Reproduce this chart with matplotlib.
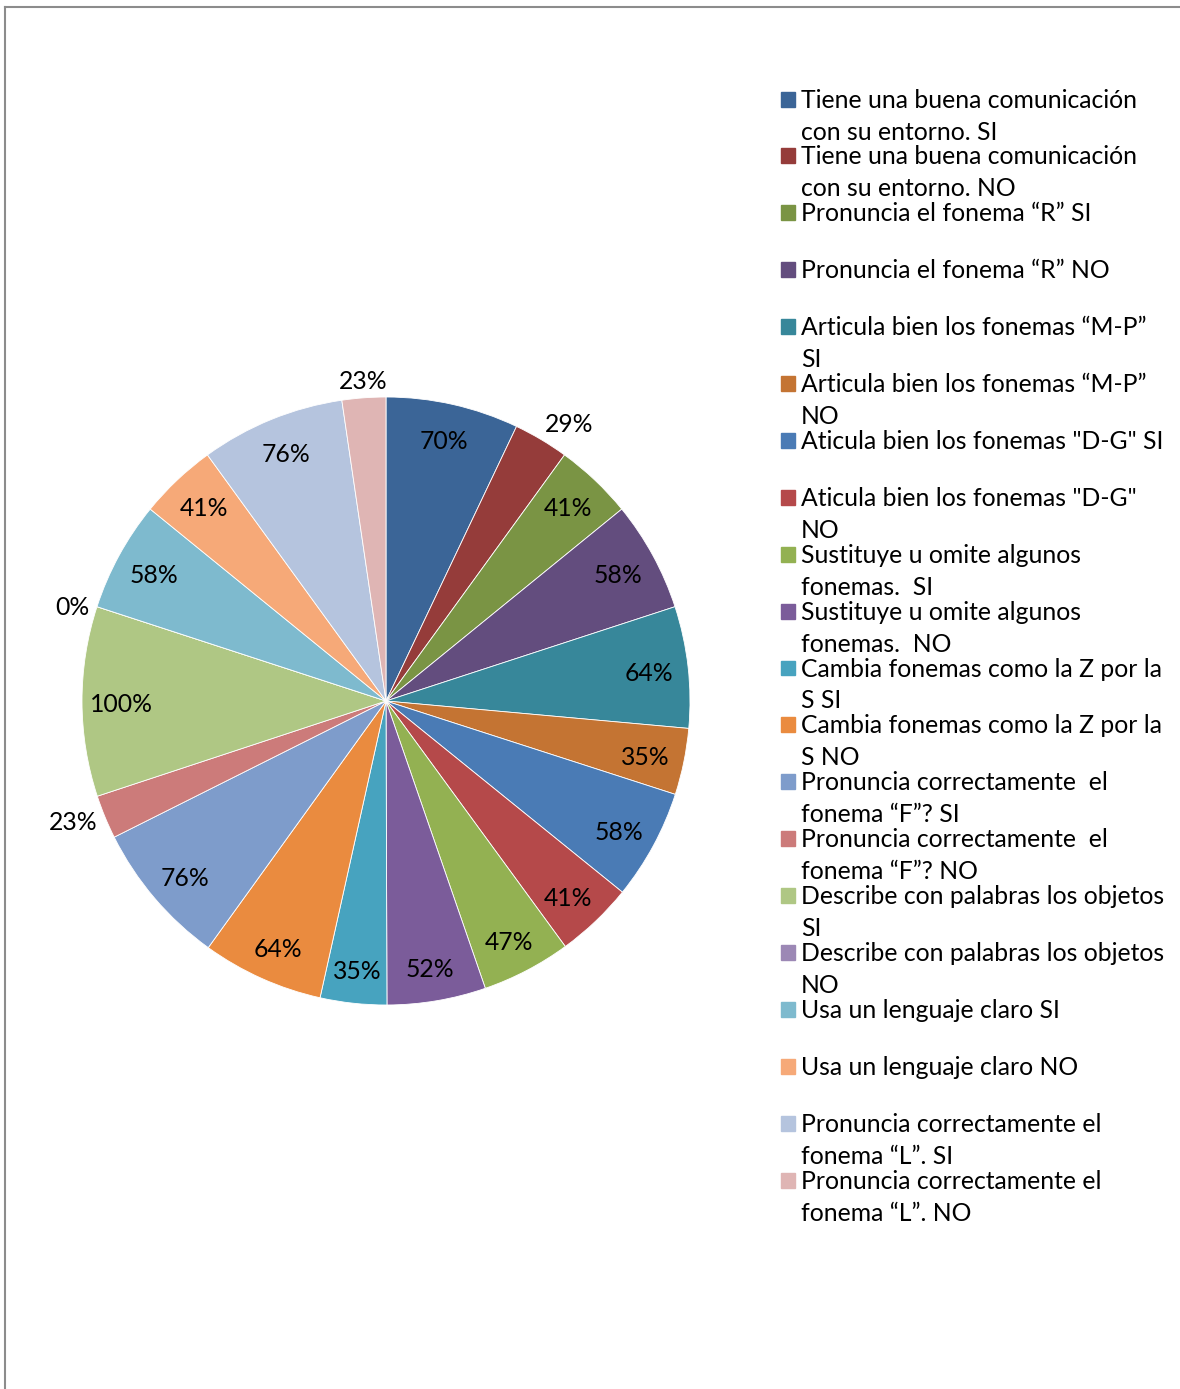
import numpy as np
import matplotlib
matplotlib.use("Agg")
import matplotlib.pyplot as plt
from matplotlib.lines import Line2D
from matplotlib.patches import Rectangle

# legend labels (two lines each, second line may be empty)
labels = [
    ("Tiene una buena comunicación", "con su entorno. SI"),
    ("Tiene una buena comunicación", "con su entorno. NO"),
    ("Pronuncia el fonema “R” SI", ""),
    ("Pronuncia el fonema “R” NO", ""),
    ("Articula bien los fonemas “M-P”", "SI"),
    ("Articula bien los fonemas “M-P”", "NO"),
    ("Aticula bien los fonemas \"D-G\" SI", ""),
    ("Aticula bien los fonemas \"D-G\"", "NO"),
    ("Sustituye u omite algunos", "fonemas.  SI"),
    ("Sustituye u omite algunos", "fonemas.  NO"),
    ("Cambia fonemas como la Z por la", "S SI"),
    ("Cambia fonemas como la Z por la", "S NO"),
    ("Pronuncia correctamente  el", "fonema “F”? SI"),
    ("Pronuncia correctamente  el", "fonema “F”? NO"),
    ("Describe con palabras los objetos", "SI"),
    ("Describe con palabras los objetos", "NO"),
    ("Usa un lenguaje claro SI", ""),
    ("Usa un lenguaje claro NO", ""),
    ("Pronuncia correctamente el", "fonema “L”. SI"),
    ("Pronuncia correctamente el", "fonema “L”. NO"),
]
values = [70, 29, 41, 58, 64, 35, 58, 41, 47, 52, 35, 64, 76, 23, 100, 0, 58, 41, 76, 23]
colors = ["#3B6597", "#953C3A", "#7A9444", "#634D7E", "#37879A", "#C47433",
          "#4A7BB5", "#B5494A", "#93B152", "#7B5C9A", "#47A3BF", "#EA8B3F",
          "#7E9CCB", "#CC7B7A", "#AFC784", "#9C88B5", "#7EBACE", "#F6A978",
          "#B5C4DE", "#DFB5B4"]

W, H = 1180, 1389
FONT = "Lato"
FS = 17.8

def fx(x):
    return x / W

def fy(y):
    return 1 - y / H

fig = plt.figure(figsize=(W / 100, H / 100), dpi=100)

# chart border (only top and left visible)
fig.add_artist(Line2D([fx(5), fx(W)], [fy(7), fy(7)], color="#8c8c8c", lw=1.5))
fig.add_artist(Line2D([fx(5), fx(5)], [fy(7), fy(H)], color="#8c8c8c", lw=1.5))

# pie
cx, cy, R = 386, 701, 304
ax = fig.add_axes([fx(cx - R), fy(cy + R), 2 * R / W, 2 * R / H])
wedges, _ = ax.pie(values, colors=colors, startangle=90, counterclock=False,
                   radius=1, wedgeprops=dict(linewidth=0.6, edgecolor="white"))
ax.set_xlim(-1, 1)
ax.set_ylim(-1, 1)
ax.set_aspect("auto")
ax.axis("off")

shift = 3 / R  # labels sit a little lower than the geometric position
for w, v in zip(wedges, values):
    mid = np.deg2rad((w.theta1 + w.theta2) / 2)
    c, s = np.cos(mid), np.sin(mid)
    if v >= 30:
        ax.text(0.87 * c, 0.885 * s - shift, f"{v}%", ha="center", va="center",
                fontsize=FS, family=FONT, clip_on=False)
    else:
        ha = "left" if c > 0.3 else ("right" if c < -0.3 else "center")
        va = "bottom" if s > 0.5 else ("top" if s < -0.5 else "center")
        ax.text(1.025 * c, 1.025 * s - 0.01, f"{v}%", ha=ha, va=va,
                fontsize=FS, family=FONT, clip_on=False)

# legend
y0, step, gap = 100, 56.9, 32
for i, ((l1, l2), c) in enumerate(zip(labels, colors)):
    y = y0 + i * step
    fig.add_artist(Rectangle((fx(781), fy(y + 6.5)), 14 / W, 15 / H, color=c,
                             transform=fig.transFigure))
    fig.text(fx(801), fy(y), l1, ha="left", va="center", fontsize=FS, family=FONT)
    if l2:
        fig.text(fx(801), fy(y + gap), l2, ha="left", va="center", fontsize=FS, family=FONT)

fig.savefig("out.png", dpi=100, facecolor="white")
